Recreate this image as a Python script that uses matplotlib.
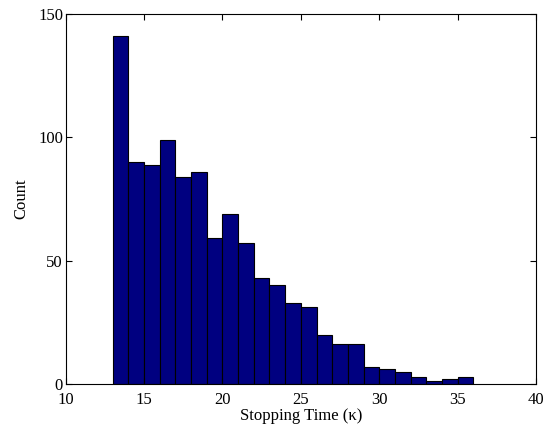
import numpy as np
import matplotlib.pyplot as plt

# bin left edges and counts
bin_left = list(range(13, 36))
counts = [141, 90, 89, 99, 84, 86, 59, 69, 57, 43, 40, 33, 31, 20, 16, 16,
          7, 6, 5, 3, 1, 2, 3]
x_ticks = [10, 15, 20, 25, 30, 35, 40]
y_ticks = [0, 50, 100, 150]

plt.rcParams['font.family'] = ['Liberation Serif', 'DejaVu Serif']
plt.rcParams['font.size'] = 12

fig = plt.figure(figsize=(5.53, 4.28), dpi=100)
ax = fig.add_axes([0.119, 0.103, 0.85, 0.864])

ax.bar(bin_left, counts, width=1.0, align='edge', color='#000080',
       edgecolor='black', linewidth=0.8)

ax.set_xlim(10, 40)
ax.set_ylim(0, 150)
ax.set_xticks(x_ticks)
ax.set_yticks(y_ticks)
ax.tick_params(direction='in', top=True, right=True, length=4, width=0.8)
ax.tick_params(axis='x', pad=6)
ax.tick_params(axis='y', pad=2)
for s in ax.spines.values():
    s.set_linewidth(0.8)

ax.set_xlabel('Stopping Time (\u03ba)', labelpad=0)
ax.set_ylabel('Count', labelpad=6)

fig.savefig('out.png', dpi=100)
